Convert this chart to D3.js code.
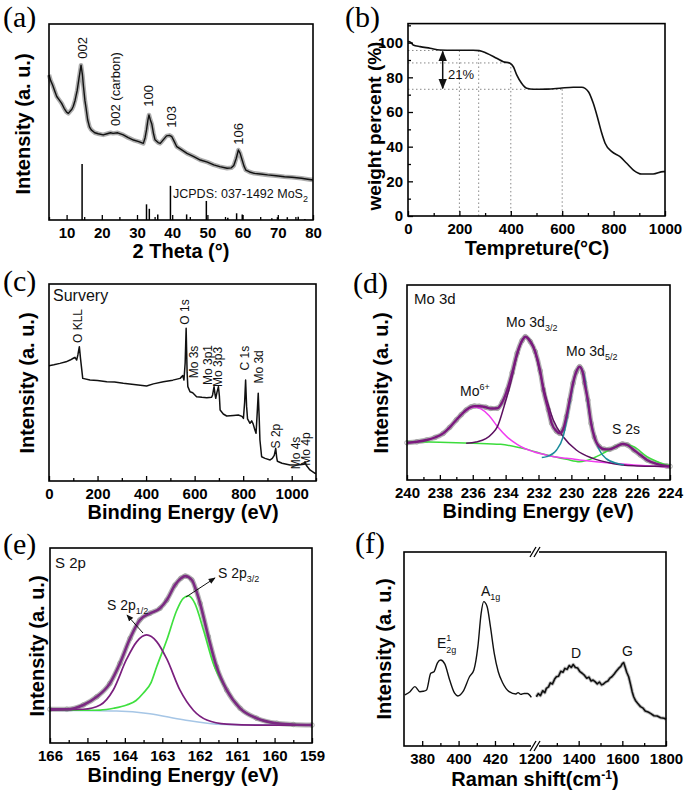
<!DOCTYPE html>
<html><head><meta charset="utf-8">
<script src="https://cdn.jsdelivr.net/npm/d3@7"></script>
<style>body{margin:0;background:#fff} svg{display:block}</style>
</head><body><svg id="c" width="685" height="792"></svg>
<script>
// ---------- DATA ----------
// (a) XRD pattern [2theta, intensity a.u.]
const xrdCurve = [[5,74],[5.5,71],[6,69],[6.6,66],[7.2,63],[7.8,61.5],[8.6,59.5],[9.3,57],[10,55],[10.5,54.4],[11,55.5],[11.5,56.5],[11.9,58],[12.4,61],[13,66],[13.5,72],[14.1,79],[14.5,74],[14.8,68],[15.2,61],[15.5,57.5],[16,51],[16.5,47.5],[17,46],[18,44.5],[19,44],[20.4,43.4],[21.5,44],[22.5,44.5],[23.2,44.2],[24.5,44.5],[26.1,43.4],[27.5,42],[29,40.8],[30.5,40],[31.8,39.1],[32.3,42],[32.7,46],[33.1,51],[33.4,53.6],[33.8,51],[34.2,49],[34.7,44],[35.1,41],[36,39.5],[36.6,39.1],[37.5,41],[38.4,42.9],[39.2,43.2],[39.9,42.5],[40.6,40],[41.3,37.4],[42.5,36],[44.2,34],[46,32.5],[48,30.6],[50,29.5],[51.8,28.1],[53.5,27.2],[55.6,26.4],[56.8,26.6],[57.5,27.8],[58.2,31.5],[58.8,35.7],[59.3,34],[59.8,31],[60.4,27.5],[60.9,25.5],[62,24.5],[63.3,23.8],[65,23.5],[67.1,23],[69.5,22.6],[71.9,22.1],[74,21.8],[76.7,21.3],[78.5,20.8],[80,20.4]];
const jcpdsTheta = [14.4,32.7,33.5,35.9,39.5,44.1,49.7,55.8,58.3,59.9,68.3,69.9,72.7,75.8,77.7];
const jcpdsRel   = [100,28,20,10,61,10,34,4,12,10,3,5,5,6,2];
// label text, 2theta of label centre, intensity of label centre
const xrdPeakLabels = [["002",14.4,87.8],["002 (carbon)",24.0,66.8],["100",33.4,63.3],["103",39.7,52.6],["106",58.7,43.9]];
const xrdTicks = [10,20,30,40,50,60,70,80];

// (b) TGA [temperature C, weight %]
const tgaCurve = [[0,100.5],[4,100.6],[14,99.7],[20,98.7],[47,97.7],[86,96.8],[124,95.8],[180,95.6],[254,95.6],[277,95.4],[306,93.9],[345,91],[371,89],[397,88.1],[410,86.1],[423,81.4],[442,76.6],[462,73.7],[488,73.1],[540,73.2],[591,73.7],[643,74.3],[676,74.3],[702,71.7],[721,65],[740,55.4],[754,47.7],[767,42],[793,37.1],[825,34.2],[851,30.4],[877,26.5],[909,24.2],[954,24.2],[993,25.6],[1000,25.6]];
const tgaGuideH = [[95.5,275],[88.3,400],[73.1,600]];  // [weight, end temperature]
const tgaGuideV = [[200,95.5],[275,95.5],[400,88.3],[600,73.1]]; // [temperature, top weight]
const tgaArrow = [135, 95.5, 73.1];
const tgaTicksX = [0,200,400,600,800,1000];
const tgaTicksY = [0,20,40,60,80,100];

// (c) XPS survey [binding energy eV, intensity]
const surveyCurve = [[0,58.5],[20,59],[45,59.7],[70,60.5],[87,61.4],[100,62.3],[107,62.8],[114,61.4],[119,64],[125,68.2],[130,62],[139,52.1],[169,51.3],[200,51],[238,50.4],[270,50.2],[306,49.6],[350,49],[402,48.2],[430,49.3],[471,50.4],[510,51.2],[540,52.1],[551,53.5],[556,51.3],[561,60],[565,77.5],[569,55],[572,47.9],[581,45.3],[592,44.8],[608,42.8],[630,42.5],[650,42.3],[670,42.5],[674,43.7],[680,47.9],[684,44],[687,42],[692,45],[698,47.9],[702,43],[705,36],[718,34],[732,33],[760,33.3],[780,33.5],[795,32.8],[801,31.8],[806,40],[810,51.3],[814,38],[818,31.5],[828,29.3],[835,30.5],[841,29],[848,26],[853,24.2],[858,35],[862,44.5],[866,32],[869,20.8],[876,12.3],[890,11.5],[911,10.7],[920,11.5],[928,13],[934,16.6],[938,12],[941,10],[960,9],[993,8.1],[1034,8.2],[1050,8.5],[1055,9.8],[1060,8],[1075,5.6],[1096,3.9],[1100,3.8]];
// label text, energy of label centre, intensity of label centre
const surveyLabels = [["O KLL",119.5,78.7],["O 1s",560,85.8],["Mo 3s",599,60.4],["Mo 3p1",657,58.9],["Mo 3p3",698,57.9],["C 1s",807.6,62.4],["Mo 3d",865,57.9],["S 2p",935,22.8],["Mo 4s",1019,14.2],["Mo 4p",1057,16.2]];
const surveyTicks = [0,200,400,600,800,1000];

// (d) Mo 3d [binding energy eV, intensity]
const moEnvelope = [[240,19.1],[239.4,19.6],[238.8,20.5],[238.3,21.8],[237.8,23.9],[237.4,27],[237,30.8],[236.7,33.5],[236.4,35.9],[236.1,37.5],[235.9,37.9],[235.6,37.8],[235.2,37.3],[234.9,36.7],[234.5,36.8],[234.2,40],[233.9,46.2],[233.6,55],[233.3,65],[233,71.5],[232.8,73.5],[232.5,71],[232.2,65.8],[231.9,56],[231.7,46.2],[231.4,36],[231.2,29.1],[230.9,25],[230.7,23.9],[230.5,26],[230.3,32.5],[230.1,41],[229.9,49.6],[229.7,55.5],[229.5,58.1],[229.3,55],[229.2,50],[229,41],[228.8,29.1],[228.6,22],[228.3,17.1],[228,15.8],[227.7,15.7],[227.3,17],[226.9,18.5],[226.6,18],[226.2,15.4],[225.8,12.8],[225.4,10.3],[224.8,8.3],[224.2,7.2],[224,7]];
const moSix = [[240,19.1],[238.8,20.5],[237.8,23.9],[237,30.8],[236.4,35.6],[235.9,37.4],[235.5,36.5],[235,33],[234.5,27.4],[233.9,22],[233.3,18.3],[232.8,16],[232.3,14.5],[231.7,13.2],[231.2,12.2],[230.3,11.1],[229.5,10.3],[228.5,9.4],[227.5,8.6],[226.5,7.9],[225.5,7.3],[224.2,6.8],[224,6.8]];
const moD32 = [[236.4,18.9],[235.8,19.5],[235.2,21.2],[234.8,24],[234.5,27.4],[234.1,37.6],[233.7,49.6],[233.3,64],[233,71.5],[232.8,73.5],[232.5,71.5],[232.3,68.4],[231.9,54.7],[231.5,41],[231.1,30.8],[230.5,22.2],[229.7,15.4],[228.7,11.1],[227.5,8.5],[226.2,7.3],[225,7],[224,6.9]];
const moD52 = [[231.8,11.5],[231.5,12],[230.9,15.4],[230.5,22.2],[230.1,39.3],[229.8,53],[229.5,57.8],[229.2,53],[229,39.3],[228.7,25.6],[228.3,15.4],[227.9,11.1],[227.2,8.5],[226.8,7.8]];
const moS2sBg = [[240,19.7],[238,19.4],[236,18.9],[234.3,18.3],[232.7,15.7],[231.5,12.8],[230.3,10.6],[229.5,9.4],[228.7,11.1],[227.9,14.5],[227.3,17.3],[226.8,18.5],[226.2,17.1],[225.4,12],[224.8,9.5],[224.2,7.7],[224,7.4]];
const moTicks = [240,238,236,234,232,230,228,226,224];

// (e) S 2p [binding energy eV, intensity]
const sEnvelope = [[166,17.3],[165.55,17.3],[165.11,19.5],[164.75,23.7],[164.4,30.6],[164.13,40.9],[163.86,53.7],[163.6,63.1],[163.33,66.5],[163.06,69.1],[162.88,73.3],[162.66,81],[162.5,84.5],[162.39,85.6],[162.21,83.6],[162.1,78.5],[161.99,71.6],[161.77,54.5],[161.55,39.1],[161.28,27.2],[160.92,17.8],[160.48,12.7],[159.94,10.1],[159.5,9.5],[159,9.2]];
const sP32 = [[166,16.8],[165,16.8],[164.66,16.9],[164.3,17.8],[163.95,19.5],[163.7,21.8],[163.51,25.5],[163.3,31],[163.15,39.1],[162.88,52.8],[162.61,68.2],[162.44,74.2],[162.3,75.4],[162.13,71.6],[161.9,57.9],[161.64,40.9],[161.28,27.2],[160.92,17.8],[160.48,12.7],[159.94,10.1],[159,9.2]];
const sP12 = [[166,16.8],[165.11,17.3],[164.66,19.5],[164.31,27.2],[163.95,43.1],[163.68,52],[163.42,55.4],[163.15,52],[162.88,43.1],[162.53,27.2],[162.17,16.8],[161.81,11.8],[161.28,9.7],[160.39,9.2],[159,9.2]];
const sBaseline = [[166,16.8],[164.22,16.4],[163.33,15],[162.44,11.9],[161.55,9.7],[160.5,9.3],[159,9.2]];
const sTicks = [166,165,164,163,162,161,160,159];

// (f) Raman [shift cm-1, intensity]
const ramanLow = [[370.5,26.3],[373.3,28],[376,30.6],[378.7,28],[380.5,28.2],[382.4,28.9],[384.7,37.5],[386.5,38.3],[388.4,42.9],[390.2,44.3],[392.4,42.3],[395.1,34],[397.8,27.2],[399.6,25.8],[402.4,28],[406,35.7],[408.4,39.2],[410.6,51.2],[412.4,68.4],[413.8,74.4],[415.7,71.8],[417.5,61.5],[419.6,47.8],[421.8,38.3],[424.2,32.6],[427.8,28],[431.5,26.8],[432.7,27.5],[434.2,26.6],[436,27.1],[437.8,27.1],[440,25.1]];
const ramanHigh = [[1206,25.4],[1215,27],[1225,26],[1235,28.5],[1245,27.5],[1252,29.7],[1262,30.5],[1270,32.5],[1280,32],[1290,34.5],[1298,35.7],[1308,36],[1318,38.5],[1328,38],[1337,40],[1347,39.5],[1357,41.5],[1366,40.5],[1375,42],[1385,40.5],[1395,40.2],[1406,38.3],[1416,37.5],[1426,36.5],[1437,34.9],[1447,35.5],[1457,33.5],[1466,34],[1475,33.2],[1485,32],[1495,33],[1505,31.5],[1514,32],[1524,33],[1534,33.5],[1543,35],[1552,35.7],[1562,37],[1572,38.5],[1583,40],[1593,41],[1600,42.5],[1606,43],[1612,41],[1620,38],[1629,35.7],[1637,32],[1645,28],[1652,25.4],[1660,23.5],[1670,22],[1683,20.3],[1695,19.5],[1705,18],[1718,17.5],[1729,16.8],[1745,15.6],[1760,15.5],[1775,14.6],[1791,14.3],[1800,13.8]];
const ramanTicksLow = [380,400,420];
const ramanTicksHigh = [1200,1400,1600,1800];

// ---------- DRAWING ----------
const svg = d3.select("#c");
const SANS = "'Liberation Sans', Arial, sans-serif";
const SERIF = "'Liberation Serif', 'Times New Roman', serif";

svg.append("defs").html(`
<marker id="ah" viewBox="0 0 10 10" refX="9" refY="5" markerWidth="7" markerHeight="7" orient="auto-start-reverse"><path d="M0,1 L10,5 L0,9 z" fill="#111"/></marker>`);

function frame(x, y){
  const [x0,x1] = x.range ? [d3.min(x.range()), d3.max(x.range())] : x;
  const [y0,y1] = [d3.max(y.range()), d3.min(y.range())];
  svg.append("rect").attr("x",x0).attr("y",y1).attr("width",x1-x0).attr("height",y0-y1)
    .attr("fill","none").attr("stroke","#000").attr("stroke-width",1.6);
}
function styleAxis(g){
  g.select(".domain").remove();
  g.selectAll("line").attr("stroke","#000").attr("stroke-width",1.3);
  g.selectAll("text").attr("font-family",SANS).attr("font-weight","bold").attr("font-size",15).attr("fill","#000");
}
function bottomAxis(x, yPix, major, minor){
  if (minor) styleAxis(svg.append("g").attr("transform",`translate(0,${yPix})`)
      .call(d3.axisBottom(x).tickValues(minor).tickSize(-3).tickFormat("")));
  const g = svg.append("g").attr("transform",`translate(0,${yPix})`)
      .call(d3.axisBottom(x).tickValues(major).tickSize(-5).tickPadding(7).tickFormat(d3.format("d")));
  styleAxis(g);
  return g;
}
function xLabel(text, cx, baseline, size){
  return svg.append("text").attr("x",cx).attr("y",baseline).attr("text-anchor","middle")
    .attr("font-family",SANS).attr("font-weight","bold").attr("font-size",size||20).text(text);
}
function yLabel(text, cx, cy, size){
  svg.append("text").attr("transform",`translate(${cx},${cy}) rotate(-90)`).attr("text-anchor","middle")
    .attr("dominant-baseline","central").attr("font-family",SANS).attr("font-weight","bold").attr("font-size",size||20).text(text);
}
function panelLabel(t, x, y){
  svg.append("text").attr("x",x).attr("y",y).attr("font-family",SERIF).attr("font-size",30).text(t);
}
function note(x, y, size){
  return svg.append("text").attr("x",x).attr("y",y).attr("font-family",SANS).attr("font-size",size||13).attr("fill","#111");
}
function path(data, x, y, color, width, curve){
  return svg.append("path").datum(data)
    .attr("d", d3.line().x(d=>x(d[0])).y(d=>y(d[1])).curve(curve||d3.curveLinear))
    .attr("fill","none").attr("stroke",color).attr("stroke-width",width).attr("stroke-linejoin","round");
}
function vText(t, cx, cy, size){
  svg.append("text").attr("transform",`translate(${cx},${cy}) rotate(-90)`).attr("text-anchor","middle")
    .attr("dominant-baseline","central").attr("font-family",SANS).attr("font-size",size||13).attr("fill","#111").text(t);
}

// ===== (a) =====
{
  const x = d3.scaleLinear().domain([5,80]).range([49,313]);
  const y = d3.scaleLinear().domain([0,100]).range([220,24]);
  const ys = d3.scaleLinear().domain([0,100]).range([220,164]);
  path(xrdCurve, x, y, "#6a6a6a", 4.5).attr("opacity",0.55);
  path(xrdCurve, x, y, "#111", 1.4);
  svg.append("g").selectAll("line").data(d3.zip(jcpdsTheta, jcpdsRel)).join("line")
    .attr("x1",d=>x(d[0])).attr("x2",d=>x(d[0])).attr("y1",ys(0)).attr("y2",d=>ys(d[1]))
    .attr("stroke","#000").attr("stroke-width",1.5);
  frame(x, y);
  bottomAxis(x, 220, xrdTicks, [5,15,25,35,45,55,65,75]);
  xrdPeakLabels.forEach(([t,th,v])=> vText(t, x(th), y(v), 13));
  const jt = note(173, 198, 12.5).text("JCPDS: 037-1492 MoS");
  jt.append("tspan").attr("font-size",9).attr("dy",4).text("2");
  xLabel("2 Theta (°)", 181, 258);
  yLabel("Intensity (a. u.)", 23, 124);
  panelLabel("(a)", 3, 27);
}

// ===== (b) =====
{
  const x = d3.scaleLinear().domain([0,1000]).range([408,665]);
  const y = d3.scaleLinear().domain([0,111]).range([216,23.6]);
  const dot = g => g.attr("stroke","#888").attr("stroke-width",1).attr("stroke-dasharray","1.5,2.5");
  svg.append("g").selectAll("line").data(tgaGuideH).join("line")
    .attr("x1",x(0)).attr("x2",d=>x(d[1])).attr("y1",d=>y(d[0])).attr("y2",d=>y(d[0])).call(dot);
  svg.append("g").selectAll("line").data(tgaGuideV).join("line")
    .attr("x1",d=>x(d[0])).attr("x2",d=>x(d[0])).attr("y1",d=>y(d[1])).attr("y2",y(0)).call(dot);
  path(tgaCurve, x, y, "#111", 1.6, d3.curveMonotoneX);
  svg.append("line").attr("x1",x(tgaArrow[0])).attr("x2",x(tgaArrow[0]))
    .attr("y1",y(tgaArrow[1])+1).attr("y2",y(tgaArrow[2])-1)
    .attr("stroke","#111").attr("stroke-width",1.5)
    .attr("marker-start","url(#ah)").attr("marker-end","url(#ah)");
  note(448, 79, 13).text("21%");
  frame(x, y);
  bottomAxis(x, 216, tgaTicksX, [100,300,500,700,900]);
  styleAxis(svg.append("g").attr("transform","translate(408,0)")
    .call(d3.axisLeft(y).tickValues([10,30,50,70,90,110]).tickSize(-3).tickFormat("")));
  styleAxis(svg.append("g").attr("transform","translate(408,0)")
    .call(d3.axisLeft(y).tickValues(tgaTicksY).tickSize(-5).tickPadding(5).tickFormat(d3.format("d"))));
  xLabel("Tempreture(°C)", 537, 255);
  yLabel("weight percent (%)", 374, 126, 19);
  panelLabel("(b)", 345, 27);
}

// ===== (c) =====
{
  const x = d3.scaleLinear().domain([0,1100]).range([49,316]);
  const y = d3.scaleLinear().domain([0,100]).range([481,284]);
  path(surveyCurve, x, y, "#111", 1.5);
  frame(x, y);
  bottomAxis(x, 481, surveyTicks, [100,300,500,700,900,1100]);
  note(53, 301, 16).text("Survery");
  surveyLabels.forEach(([t,e,v])=> vText(t, x(e), y(v), 12));
  xLabel("Binding Energy (eV)", 183, 519);
  yLabel("Intensity (a. u.)", 27, 383);
  panelLabel("(c)", 3, 291);
}

// ===== (d) =====
{
  const x = d3.scaleLinear().domain([240,224]).range([407,670]);
  const y = d3.scaleLinear().domain([0,100]).range([480,285]);
  const c = d3.curveMonotoneX;
  path(moEnvelope, x, y, "#b4b4b4", 5, c);
  svg.append("g").selectAll("circle").data(moEnvelope).join("circle")
    .attr("cx",d=>x(d[0])).attr("cy",d=>y(d[1])).attr("r",2.3)
    .attr("fill","none").attr("stroke","#9a9a9a").attr("stroke-width",0.8);
  path(moS2sBg, x, y, "#3cdc3c", 1.5, c);
  path(moSix, x, y, "#f03cf0", 1.5, c);
  path(moD32, x, y, "#5c1060", 1.5, c);
  path(moD52, x, y, "#1a8c9c", 1.5, c);
  path(moEnvelope, x, y, "#7a1a7e", 2.4, c);
  frame(x, y);
  bottomAxis(x, 480, moTicks, [239,237,235,233,231,229,227,225]);
  note(414, 304, 15).text("Mo 3d");
  const t1 = note(506, 327, 14).text("Mo 3d"); t1.append("tspan").attr("font-size",9).attr("dy",4).text("3/2");
  const t2 = note(566, 356, 14).text("Mo 3d"); t2.append("tspan").attr("font-size",9).attr("dy",4).text("5/2");
  const t3 = note(460, 396, 14).text("Mo"); t3.append("tspan").attr("font-size",9).attr("dy",-6).text("6+");
  note(612, 434, 14).text("S 2s");
  xLabel("Binding Energy (eV)", 538, 518);
  yLabel("Intensity (a. u.)", 381, 383);
  panelLabel("(d)", 353, 293);
}

// ===== (e) =====
{
  const x = d3.scaleLinear().domain([166,159]).range([50,312]);
  const y = d3.scaleLinear().domain([0,100]).range([743,548]);
  const c = d3.curveMonotoneX;
  path(sEnvelope, x, y, "#b4b4b4", 5, c);
  svg.append("g").selectAll("circle").data(sEnvelope).join("circle")
    .attr("cx",d=>x(d[0])).attr("cy",d=>y(d[1])).attr("r",2.3)
    .attr("fill","none").attr("stroke","#9a9a9a").attr("stroke-width",0.8);
  path(sBaseline, x, y, "#a6c6e6", 1.6, c);
  path(sP32, x, y, "#3fe03f", 1.7, c);
  path(sP12, x, y, "#7a1f7e", 1.7, c);
  path(sEnvelope, x, y, "#7b2a82", 2.6, c);
  frame(x, y);
  bottomAxis(x, 743, sTicks, [165.5,164.5,163.5,162.5,161.5,160.5,159.5]);
  note(55, 568, 15).text("S 2p");
  const a = note(107, 610, 14).text("S 2p"); a.append("tspan").attr("font-size",9).attr("dy",4).text("1/2");
  const b = note(218, 578, 14).text("S 2p"); b.append("tspan").attr("font-size",9).attr("dy",4).text("3/2");
  svg.append("line").attr("x1",143).attr("y1",633).attr("x2",127).attr("y2",615)
    .attr("stroke","#111").attr("stroke-width",1).attr("marker-end","url(#ah)");
  svg.append("line").attr("x1",186).attr("y1",597).attr("x2",215).attr("y2",578)
    .attr("stroke","#111").attr("stroke-width",1).attr("marker-end","url(#ah)");
  xLabel("Binding Energy (eV)", 183, 782);
  yLabel("Intensity (a. u.)", 37, 646);
  panelLabel("(e)", 3, 554);
}

// ===== (f) =====
{
  const xl = d3.scaleLinear().domain([370,442]).range([404,535]);
  const xh = d3.scaleLinear().domain([1200,1800]).range([535,666]);
  const y = d3.scaleLinear().domain([0,100]).range([746,552]);
  path(ramanLow, xl, y, "#111", 1.4, d3.curveMonotoneX);
  path(ramanHigh, xh, y, "#c0c0c0", 3.5);
  path(ramanHigh, xh, y, "#111", 1.6);
  frame([404,666], y);
  bottomAxis(xl, 746, ramanTicksLow, [390,410,430]);
  const gh = bottomAxis(xh, 746, ramanTicksHigh, [1300,1500,1700]);
  gh.selectAll(".tick").filter(d=>d===1200).select("line").remove();
  [552,746].forEach(yy=>{
    svg.append("rect").attr("x",531).attr("y",yy-2).attr("width",8).attr("height",4).attr("fill","#fff");
    [-2,2].forEach(dx=>svg.append("line").attr("x1",535+dx-3).attr("y1",yy+5).attr("x2",535+dx+3).attr("y2",yy-5)
      .attr("stroke","#000").attr("stroke-width",1.3));
  });
  const e = note(437, 648, 14).text("E");
  e.append("tspan").attr("font-size",9).attr("dy",-7).text("1");
  e.append("tspan").attr("font-size",9).attr("dx",-5).attr("dy",12).text("2g");
  const aa = note(481, 596, 14).text("A"); aa.append("tspan").attr("font-size",9).attr("dy",4).text("1g");
  note(571, 658, 14).text("D");
  note(622, 656, 14).text("G");
  const xlab = xLabel("Raman shift(cm", 535, 786);
  xlab.append("tspan").attr("font-size",12).attr("dy",-7).text("-1");
  xlab.append("tspan").attr("dy",7).text(")");
  yLabel("Intensity (a. u.)", 384, 649);
  panelLabel("(f)", 355, 553);
}
</script></body></html>
